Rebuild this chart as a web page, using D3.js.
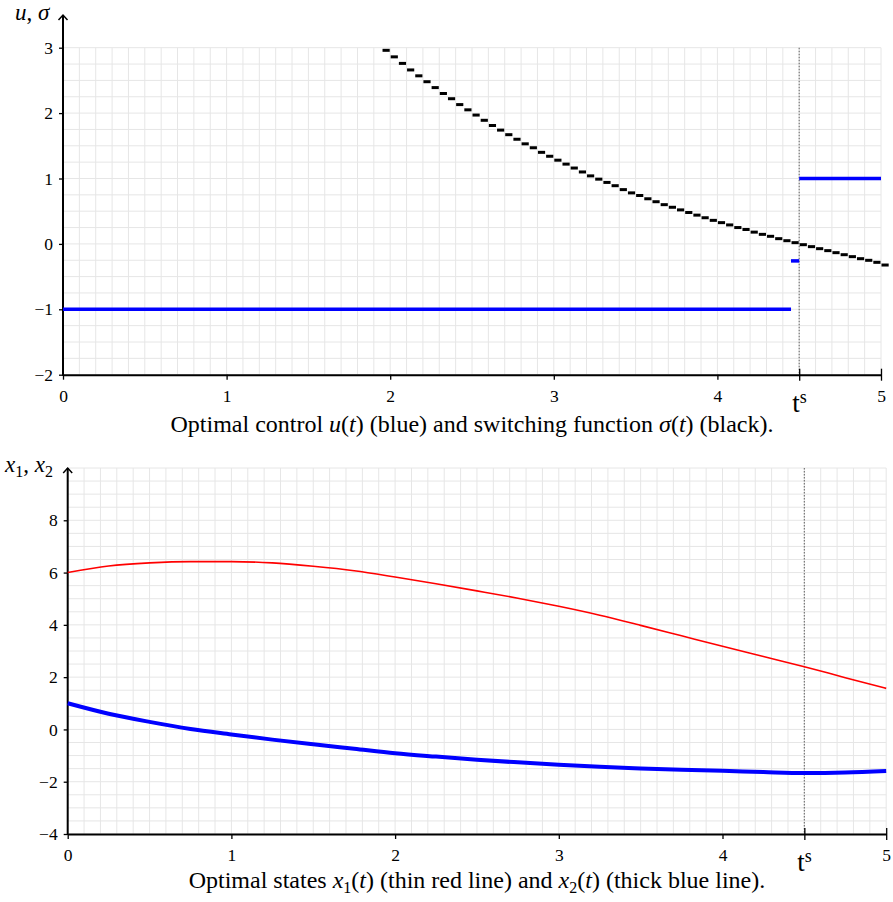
<!DOCTYPE html>
<html>
<head>
<meta charset="utf-8">
<script src="https://cdn.jsdelivr.net/npm/d3@7"></script>
<style>
body{margin:0;background:#fff}
svg{display:block;background:#fff}
text{font-family:"Liberation Serif","Times New Roman",serif;fill:#000}
.grid line{stroke:#e6e6e6;stroke-width:1}
</style>
</head>
<body>
<svg id="chart" width="893" height="902"></svg>
<script>
// switching function sigma(t): one value per step of width 0.05, step start times
const sigmaT=[1.95,2.00,2.05,2.10,2.15,2.20,2.25,2.30,2.35,2.40,2.45,2.50,2.55,2.60,2.65,2.70,2.75,2.80,2.85,2.90,
	2.95,3.00,3.05,3.10,3.15,3.20,3.25,3.30,3.35,3.40,3.45,3.50,3.55,3.60,3.65,3.70,3.75,3.80,3.85,3.90,
	3.95,4.00,4.05,4.10,4.15,4.20,4.25,4.30,4.35,4.40,4.45,4.50,4.55,4.60,4.65,4.70,4.75,4.80,4.85,4.90,
	4.95,5.00]
const sigmaVal=[2.96,2.86,2.76,2.66,2.57,2.48,2.39,2.30,2.22,2.13,2.05,1.97,1.89,1.81,1.74,1.67,1.60,1.53,1.47,1.40,
	1.34,1.28,1.22,1.16,1.10,1.04,0.99,0.94,0.89,0.83,0.78,0.74,0.69,0.645,0.60,0.56,0.52,0.48,0.44,0.40,
	0.36,0.325,0.29,0.25,0.22,0.18,0.146,0.116,0.08,0.049,0.019,-0.012,-0.042,-0.073,-0.103,-0.134,-0.165,-0.195,-0.226,-0.251,
	-0.282,-0.323]
const stepWidth=0.05

// optimal control u(t), piecewise constant
const uStart=[0,4.45,4.5]
const uEnd=[4.45,4.5,5]
const uVal=[-1,-0.26,1]

// optimal states
const stateT=[0,0.25,0.5,0.75,1,1.25,1.5,1.75,2,2.25,2.5,2.75,3,3.25,3.5,3.75,4,4.25,4.5,4.75,5]
const x1Val=[6.00,6.25,6.37,6.42,6.42,6.37,6.24,6.07,5.83,5.57,5.30,5.02,4.71,4.37,3.98,3.58,3.18,2.79,2.40,1.98,1.57]
const x2Val=[1.00,0.60,0.29,0.02,-0.19,-0.39,-0.57,-0.74,-0.91,-1.04,-1.16,-1.26,-1.35,-1.43,-1.49,-1.54,-1.58,-1.63,-1.67,-1.65,-1.59]

const tSwitch=4.5
const tTicks=[0,1,2,3,4,5]
const uTicks=[-2,-1,0,1,2,3]
const stateTicks=[-4,-2,0,2,4,6,8]

const svg=d3.select('#chart')
const serif='"Liberation Serif","Times New Roman",serif'
const fmt=d3.format('d')

function panel(cfg){
	const g=svg.append('g')
	const x=d3.scaleLinear().domain([0,5]).range(cfg.xRange)
	const y=d3.scaleLinear().domain(cfg.yDomain).range(cfg.yRange)
	const yMin=cfg.yDomain[0]

	// grid
	const grid=g.append('g').attr('class','grid')
	grid.selectAll('.vg')
		.data(d3.range(0,51).map(i=>i/10))
		.enter().append('line')
		.attr('x1',d=>x(d)).attr('x2',d=>x(d))
		.attr('y1',y(yMin)).attr('y2',y(cfg.gridTop))
	grid.selectAll('.hg')
		.data(d3.range(yMin,cfg.gridTop+1e-6,cfg.gridStep))
		.enter().append('line')
		.attr('x1',x(0)).attr('x2',x(5))
		.attr('y1',d=>y(d)).attr('y2',d=>y(d))

	// switching time
	g.append('line')
		.attr('x1',x(tSwitch)).attr('x2',x(tSwitch))
		.attr('y1',y(cfg.gridTop)).attr('y2',y(yMin))
		.attr('stroke','#777').attr('stroke-width',1.2)
		.attr('stroke-dasharray','1.5,1.5')

	// x axis
	const xAxis=d3.axisBottom(x)
		.tickValues(tTicks.concat([tSwitch]))
		.tickFormat(d=>d===tSwitch?'':fmt(d))
		.tickSize(5).tickSizeOuter(0).tickPadding(10)
	const xg=g.append('g')
		.attr('transform',`translate(0,${y(yMin)})`)
		.call(xAxis)
	xg.select('.domain').attr('stroke-width',2)
	xg.selectAll('.tick line')
		.attr('stroke-width',1.3)
		.attr('y1',d=>(d===tSwitch||d===5)?-6:0)
		.attr('y2',d=>(d===tSwitch||d===5)?6:5)
	xg.selectAll('.tick text')
		.style('font-size','17.5px').style('font-family',serif).attr('fill','#000')

	const ts=g.append('text')
		.attr('x',x(tSwitch)-7)
		.attr('y',y(yMin)+37)
		.style('font-size','27px')
	ts.append('tspan').text('t')
	ts.append('tspan').attr('dy',-9).style('font-size','18px').text('s')

	// y axis
	const yAxis=d3.axisLeft(y)
		.tickValues(cfg.yTicks)
		.tickFormat(fmt)
		.tickSize(4).tickPadding(6)
	const yg=g.append('g')
		.attr('transform',`translate(${x(0)},0)`)
		.call(yAxis)
	yg.select('.domain').remove()
	yg.selectAll('.tick line').attr('stroke-width',1.3)
	yg.selectAll('.tick text')
		.style('font-size','17.5px').style('font-family',serif).attr('fill','#000')

	g.append('line')
		.attr('x1',x(0)).attr('x2',x(0))
		.attr('y1',y(yMin)+1).attr('y2',y(cfg.arrowTop))
		.attr('stroke','#000').attr('stroke-width',2)
	g.append('path')
		.attr('d','M-4.5,5L0,0L4.5,5')
		.attr('transform',`translate(${x(0)},${y(cfg.arrowTop)})`)
		.attr('fill','none').attr('stroke','#000').attr('stroke-width',1.5)

	return {g,x,y}
}

// ---------- top: control and switching function
const topPanel=panel({
	xRange:[63,881],yDomain:[-2,3],yRange:[374.7,47.7],
	gridTop:3,gridStep:0.25,arrowTop:3.5,yTicks:uTicks
})

topPanel.g.selectAll('.sigma')
	.data(sigmaT)
	.enter().append('line')
	.attr('class','sigma')
	.attr('x1',d=>topPanel.x(d)+0.5)
	.attr('x2',d=>topPanel.x(d+stepWidth)-0.5)
	.attr('y1',(d,i)=>topPanel.y(sigmaVal[i]))
	.attr('y2',(d,i)=>topPanel.y(sigmaVal[i]))
	.attr('stroke','#000').attr('stroke-width',3)

topPanel.g.selectAll('.ctrl')
	.data(uVal)
	.enter().append('line')
	.attr('class','ctrl')
	.attr('x1',(d,i)=>topPanel.x(uStart[i]))
	.attr('x2',(d,i)=>topPanel.x(uEnd[i]))
	.attr('y1',d=>topPanel.y(d))
	.attr('y2',d=>topPanel.y(d))
	.attr('stroke','#0000ff').attr('stroke-width',3.5)

const lab1=svg.append('text').attr('x',15).attr('y',20).style('font-size','23px')
lab1.append('tspan').attr('font-style','italic').text('u')
lab1.append('tspan').text(', ')
lab1.append('tspan').attr('font-style','italic').text('σ')

const cap1=svg.append('text')
	.attr('x',(topPanel.x(0)+topPanel.x(5))/2).attr('y',432)
	.attr('text-anchor','middle').style('font-size','24px')
cap1.append('tspan').text('Optimal control ')
cap1.append('tspan').attr('font-style','italic').text('u')
cap1.append('tspan').text('(')
cap1.append('tspan').attr('font-style','italic').text('t')
cap1.append('tspan').text(') (blue) and switching function ')
cap1.append('tspan').attr('font-style','italic').text('σ')
cap1.append('tspan').text('(')
cap1.append('tspan').attr('font-style','italic').text('t')
cap1.append('tspan').text(') (black).')

// ---------- bottom: states
const botPanel=panel({
	xRange:[67.7,886.2],yDomain:[-4,10],yRange:[834,468],
	gridTop:10,gridStep:0.5,arrowTop:10,yTicks:stateTicks
})

const stateLine=vals=>d3.line()
	.x((d,i)=>botPanel.x(stateT[i]))
	.y(d=>botPanel.y(d))
	.curve(d3.curveMonotoneX)(vals)

botPanel.g.append('path')
	.attr('d',stateLine(x1Val))
	.attr('fill','none').attr('stroke','#ff0000').attr('stroke-width',1.6)
botPanel.g.append('path')
	.attr('d',stateLine(x2Val))
	.attr('fill','none').attr('stroke','#0000ff').attr('stroke-width',4)

const lab2=svg.append('text').attr('x',5).attr('y',472).style('font-size','23px')
lab2.append('tspan').attr('font-style','italic').text('x')
lab2.append('tspan').attr('dy',5).style('font-size','16px').text('1')
lab2.append('tspan').attr('dy',-5).text(', ')
lab2.append('tspan').attr('font-style','italic').text('x')
lab2.append('tspan').attr('dy',5).style('font-size','16px').text('2')

const cap2=svg.append('text')
	.attr('x',(botPanel.x(0)+botPanel.x(5))/2).attr('y',888)
	.attr('text-anchor','middle').style('font-size','24px')
cap2.append('tspan').text('Optimal states ')
cap2.append('tspan').attr('font-style','italic').text('x')
cap2.append('tspan').attr('dy',5).style('font-size','16px').text('1')
cap2.append('tspan').attr('dy',-5).text('(')
cap2.append('tspan').attr('font-style','italic').text('t')
cap2.append('tspan').text(') (thin red line) and ')
cap2.append('tspan').attr('font-style','italic').text('x')
cap2.append('tspan').attr('dy',5).style('font-size','16px').text('2')
cap2.append('tspan').attr('dy',-5).text('(')
cap2.append('tspan').attr('font-style','italic').text('t')
cap2.append('tspan').text(') (thick blue line).')
</script>
</body>
</html>
